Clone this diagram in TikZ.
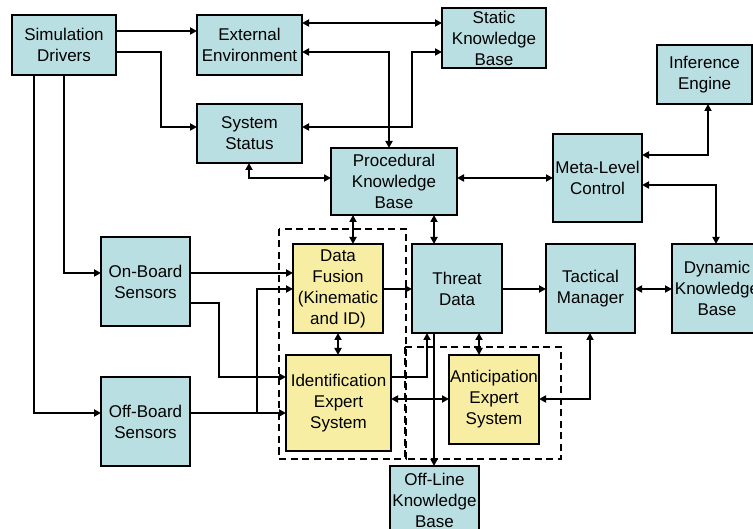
\documentclass[tikz,border=0pt]{standalone}
\usepackage{fontspec}
\setmainfont{Liberation Sans}
\usetikzlibrary{arrows.meta}
\definecolor{boxblue}{HTML}{BADFE2}
\definecolor{boxyel}{HTML}{F8EEA3}
\tikzset{
  box/.style={draw=black, line width=2.4pt, fill=boxblue, inner sep=0pt, outer sep=0pt, align=center,
    font=\fontsize{17}{21}\selectfont},
  ybox/.style={box, fill=boxyel},
  arr/.style={line width=2pt, -{Triangle[length=7pt,width=7pt]}},
  darr/.style={line width=2pt, {Triangle[length=7pt,width=7pt]}-{Triangle[length=7pt,width=7pt]}},
  dbox/.style={line width=2pt, dash pattern=on 7pt off 4.5pt},
}
\begin{document}
\begin{tikzpicture}[x=1pt,y=-1pt]
\useasboundingbox (0,0) rectangle (753,529);
\clip (0,0) rectangle (753,529);
\fill[white] (0,0) rectangle (753,529);

% dashed groups
\draw[dbox] (279,229) rectangle (406,459);
\draw[dbox] (405,347) rectangle (561,459);

% nodes
\node[box, minimum width=104pt, minimum height=60pt] (sim) at (64,45) {Simulation\\Drivers};
\node[box, minimum width=105pt, minimum height=60pt] (ext) at (249.5,45) {External\\Environment};
\node[box, minimum width=105pt, minimum height=59pt] (sys) at (249.5,133.5) {System\\Status};
\node[box, minimum width=126pt, minimum height=67pt] (proc) at (394,181.5) {Procedural\\Knowledge\\Base};
\node[box, minimum width=104pt, minimum height=60pt] (stat) at (494,38) {Static\\Knowledge\\Base};
\node[box, minimum width=95pt, minimum height=59pt] (inf) at (704.5,74.5) {Inference\\Engine};
\node[box, minimum width=89pt, minimum height=88pt] (meta) at (597.5,178) {Meta-Level\\Control};
\node[box, minimum width=89pt, minimum height=89pt] (onb) at (145.5,281.5) {On-Board\\Sensors};
\node[box, minimum width=89pt, minimum height=89pt] (offb) at (145.5,421.5) {Off-Board\\Sensors};
\node[ybox, minimum width=90pt, minimum height=89pt] (df) at (338,288.5) {Data\\Fusion\\(Kinematic\\and ID)};
\node[ybox, minimum width=105pt, minimum height=96pt] (ident) at (338.5,403) {Identification\\Expert\\System};
\node[box, minimum width=90pt, minimum height=89pt] (thr) at (457,288.5) {Threat\\Data};
\node[box, minimum width=89pt, minimum height=89pt] (tac) at (590.5,288.5) {Tactical\\Manager};
\node[box, minimum width=90pt, minimum height=89pt] (dyn) at (717,288.5) {Dynamic\\Knowledge\\Base};
\node[ybox, minimum width=90pt, minimum height=89pt] (ant) at (494,399.5) {Anticipation\\Expert\\System};
\node[box, minimum width=89pt, minimum height=68pt] (offl) at (434.5,500) {Off-Line\\Knowledge\\Base};

\coordinate (j1) at (257,413);

% connectors
\draw[arr] (sim.east |- 0,31) -- (ext.west |- 0,31);
\draw[arr] (sim.east |- 0,52) -| (161,127) -- (sys.west |- 0,127);
\draw[arr] (sim.south -| 64,0) |- (onb.west |- 0,273);
\draw[arr] (sim.south -| 34,0) |- (offb.west |- 0,413);

\draw[darr] (ext.east |- 0,23) -- (stat.west |- 0,23);
\draw[darr] (ext.east |- 0,52) -| (proc.north -| 389,0);
\draw[darr] (sys.east |- 0,127) -| (412,52) -- (stat.west |- 0,52);
\draw[darr] (sys.south -| 249,0) |- (proc.west |- 0,178);
\draw[darr] (proc.east |- 0,178) -- (meta.west |- 0,178);
\draw[darr] (meta.east |- 0,155) -| (inf.south -| 708,0);
\draw[darr] (meta.east |- 0,185) -| (dyn.north -| 716,0);
\draw[darr] (proc.south -| 353,0) -- (df.north -| 353,0);
\draw[darr] (proc.south -| 434,0) -- (thr.north -| 434,0);

\draw[arr] (onb.east |- 0,273) -- (df.west |- 0,273);
\draw[arr] (onb.east |- 0,303) -| (219,377) -- (ident.west |- 0,377);
\draw[arr] (offb.east |- 0,413) -- (ident.west |- 0,413);
\draw[arr] (j1) |- (df.west |- 0,289);

\draw[arr] (df.east |- 0,289) -- (thr.west |- 0,289);
\draw[darr] (df.south -| 338,0) -- (ident.north -| 338,0);
\draw[arr] (thr.east |- 0,289) -- (tac.west |- 0,289);
\draw[darr] (tac.east |- 0,289) -- (dyn.west |- 0,289);
\draw[arr] (ident.east |- 0,377) -| (thr.south -| 427,0);
\draw[darr] (ident.east |- 0,399) -- (ant.west |- 0,399);
\draw[darr] (thr.south -| 479,0) -- (ant.north -| 479,0);
\draw[darr] (tac.south -| 590,0) |- (ant.east |- 0,399);
\draw[arr] (thr.south -| 434,0) -- (offl.north -| 434,0);
\end{tikzpicture}
\end{document}
